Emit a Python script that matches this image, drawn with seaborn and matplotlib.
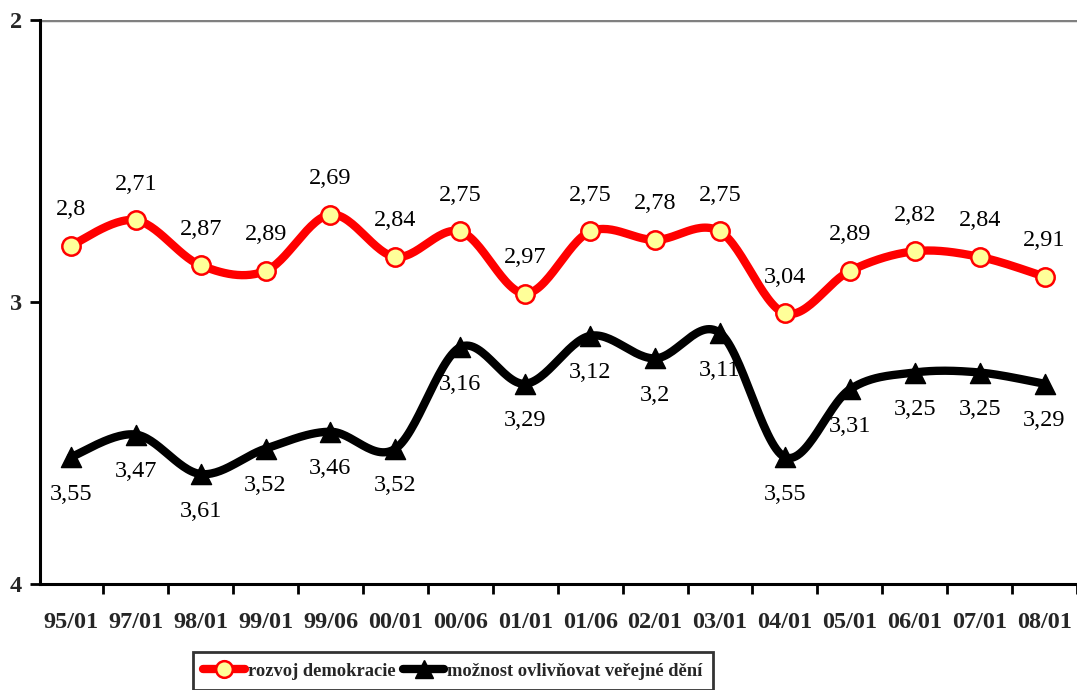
import numpy as np
import pandas as pd
import matplotlib
matplotlib.use("Agg")
import matplotlib.pyplot as plt
from matplotlib.lines import Line2D
import seaborn as sns

categories = ["95/01", "97/01", "98/01", "99/01", "99/06", "00/01", "00/06", "01/01",
              "01/06", "02/01", "03/01", "04/01", "05/01", "06/01", "07/01", "08/01"]
rozvoj = [2.8, 2.71, 2.87, 2.89, 2.69, 2.84, 2.75, 2.97, 2.75, 2.78, 2.75, 3.04, 2.89, 2.82, 2.84, 2.91]
moznost = [3.55, 3.47, 3.61, 3.52, 3.46, 3.52, 3.16, 3.29, 3.12, 3.2, 3.11, 3.55, 3.31, 3.25, 3.25, 3.29]
y_ticks = [2, 3, 4]
series_names = ["rozvoj demokracie", "možnost ovlivňovat veřejné dění"]

sns.set_theme(style="white")
plt.rcParams['font.family'] = ['Liberation Serif', 'DejaVu Serif']


def smooth(xs, ys, n=30):
    xs = np.asarray(xs, float)
    ys = np.asarray(ys, float)
    P = np.column_stack([xs, ys])
    out = []
    m = len(P)
    for i in range(m - 1):
        p0 = P[i - 1] if i > 0 else P[i]
        p1 = P[i]
        p2 = P[i + 1]
        p3 = P[i + 2] if i + 2 < m else P[i + 1]
        c1 = p1 + (p2 - p0) / 6.0
        c2 = p2 - (p3 - p1) / 6.0
        t = np.linspace(0, 1, n, endpoint=(i == m - 2))[:, None]
        b = ((1 - t) ** 3) * p1 + 3 * ((1 - t) ** 2) * t * c1 + 3 * (1 - t) * t ** 2 * c2 + t ** 3 * p2
        out.append(b)
    out = np.vstack(out)
    return out[:, 0], out[:, 1]


fig = plt.figure(figsize=(10.77, 6.90), dpi=100)
ax = fig.add_axes([40 / 1077, 1 - 584 / 690, 1 - 40 / 1077, (584 - 20) / 690])

x = np.arange(len(categories))
red = "#FF0000"

for vals, color, zl in [(moznost, "black", 3), (rozvoj, red, 4)]:
    sx, sy = smooth(x, vals)
    sns.lineplot(x=sx, y=sy, ax=ax, color=color, linewidth=6, sort=False,
                 estimator=None, zorder=zl)

sns.scatterplot(x=x, y=rozvoj, ax=ax, marker="o", s=175, color="#FFFF99",
                edgecolor=red, linewidth=1.8, zorder=6)
sns.scatterplot(x=x, y=moznost, ax=ax, marker="^", s=210, color="black",
                edgecolor="black", linewidth=1, zorder=6)

for xi, v in zip(x, rozvoj):
    ax.annotate(f"{v:g}".replace(".", ","), (xi, v), xytext=(0, 36), textcoords="offset pixels",
                ha="center", va="center", fontsize=17.5, color="black")
for xi, v in zip(x, moznost):
    ax.annotate(f"{v:g}".replace(".", ","), (xi, v), xytext=(0, -37), textcoords="offset pixels",
                ha="center", va="center", fontsize=17.5, color="black")

ax.set_ylim(4, 2)
ax.set_xlim(-0.475, 15.45)
ax.axhline(2, color="#808080", linewidth=2.5, zorder=1)

ax.set_yticks(y_ticks)
ax.set_yticklabels([str(t) for t in y_ticks], fontsize=17.5, fontweight="bold")
ax.set_xticks(x)
ax.set_xticklabels(categories, fontsize=17.5, fontweight="bold")
ax.set_xticks(np.arange(len(categories)) + 0.5, minor=True)
ax.tick_params(axis="x", which="major", length=0, pad=20)
ax.tick_params(axis="x", which="minor", length=7, width=2, direction="out", color="black", bottom=True)
ax.tick_params(axis="y", which="major", length=7, width=2, direction="out", color="black", left=True, pad=6)

for s in ["top", "right"]:
    ax.spines[s].set_visible(False)
for s in ["left", "bottom"]:
    ax.spines[s].set_color("black")
    ax.spines[s].set_linewidth(2.2)
ax.set_xlabel("")
ax.set_ylabel("")
ax.grid(False)

handles = [
    Line2D([0], [0], color=red, linewidth=6, marker="o", markersize=12,
           markerfacecolor="#FFFF99", markeredgecolor=red, markeredgewidth=1.8),
    Line2D([0], [0], color="black", linewidth=6, marker="^", markersize=13,
           markerfacecolor="black", markeredgecolor="black"),
]
leg = fig.legend(handles, series_names, loc="center", bbox_to_anchor=(453 / 1077, 1 - 671 / 690),
                 ncol=2, frameon=True, fancybox=False, edgecolor="black", handlelength=2.25,
                 handletextpad=0.15, columnspacing=0.4, borderpad=0.55,
                 prop={"weight": "bold", "size": 13.3, "family": "Liberation Serif"})
leg.get_frame().set_linewidth(2)

fig.savefig("out.png", dpi=100, facecolor="white")
